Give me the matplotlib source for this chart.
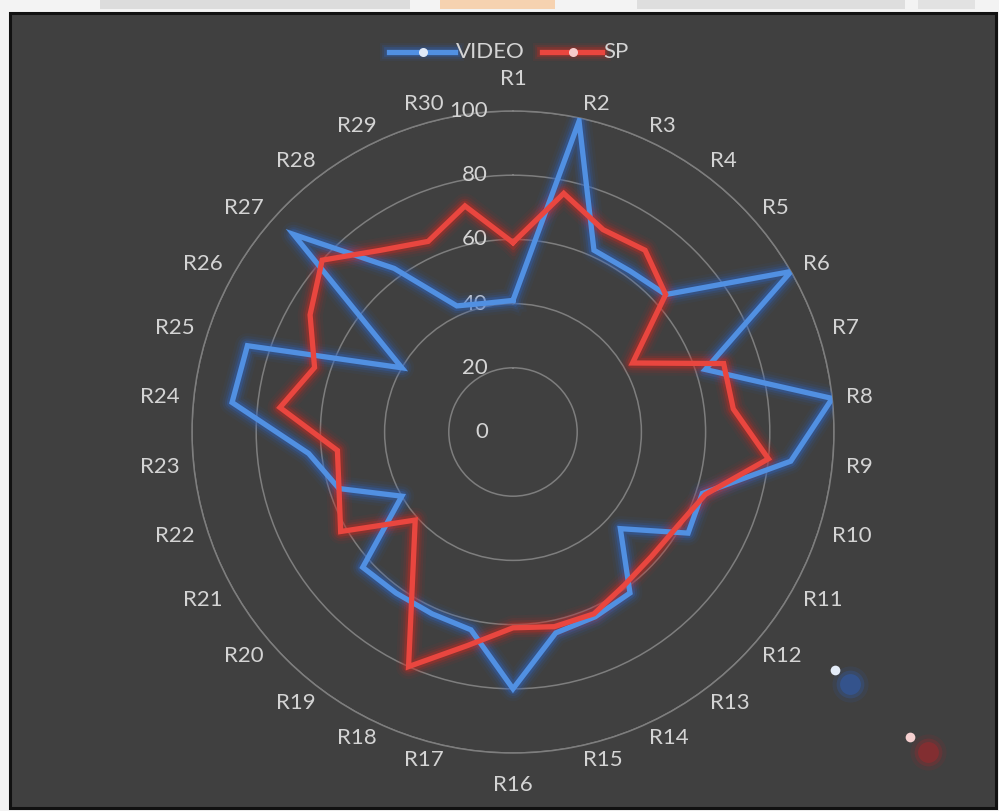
import numpy as np
import matplotlib
matplotlib.use("Agg")
import matplotlib.pyplot as plt
from matplotlib.patches import Rectangle
from matplotlib.lines import Line2D
import matplotlib.transforms as mtransforms

# ---- data -------------------------------------------------------------
categories = ["R1", "R2", "R3", "R4", "R5", "R6", "R7", "R8", "R9", "R10",
              "R11", "R12", "R13", "R14", "R15", "R16", "R17", "R18", "R19", "R20",
              "R21", "R22", "R23", "R24", "R25", "R26", "R27", "R28", "R29", "R30"]
video = [41, 99, 62, 62, 64, 100, 63, 100, 87, 62,
         63, 45, 62, 63, 64, 80, 63, 62, 62, 63,
         40, 57, 64, 88, 87, 40, 92, 63, 43, 41]
sp = [59, 76, 69, 70, 64, 43, 69, 69, 80, 63,
      59, 58, 59, 62, 62, 61, 68, 80, 53, 41,
      62, 57, 55, 73, 65, 73, 80, 70, 65, 72]
r_ticks = [0, 20, 40, 60, 80, 100]
series_names = ["VIDEO", "SP"]

# ---- style ------------------------------------------------------------
W, H = 999, 811
BG = "#404040"
TXT = "#d4d4d4"
GRID = "#7e7e7e"
BLUE, BLUE_GLOW = "#5190e2", "#2d66c8"
RED, RED_GLOW = "#e9463f", "#cf2a22"
FONT = ["Lato", "DejaVu Sans"]
FS = 16


def fx(px):
    return px / W


def fy(py):
    return 1 - py / H


fig = plt.figure(figsize=(W / 100, H / 100), dpi=100, facecolor="#f3f3f3")

# strip of page content above the chart panel
for x0, x1, col in [(100, 410, "#dcdcdc"), (440, 555, "#f6d2b0"),
                    (637, 905, "#dedede"), (918, 975, "#e2e2e2")]:
    fig.patches.append(Rectangle((fx(x0), fy(9)), fx(x1) - fx(x0), fy(0) - fy(9),
                                 transform=fig.transFigure, facecolor=col,
                                 edgecolor="none", zorder=0))

# dark chart panel
fig.patches.append(Rectangle((fx(10), fy(808)), fx(996) - fx(10), fy(13) - fy(808),
                             transform=fig.transFigure, facecolor=BG,
                             edgecolor="#111111", linewidth=2.2, zorder=0))

# ---- radar axes ---------------------------------------------------------
cx, cy, rad = 513, 432, 321
ax = fig.add_axes([fx(cx - rad), fy(cy + rad), 2 * rad / W, 2 * rad / H],
                  projection="polar")
ax.set_zorder(2)
ax.set_facecolor("none")
ax.set_theta_zero_location("N")
ax.set_theta_direction(-1)
ax.set_ylim(0, 100)

angles = np.linspace(0, 2 * np.pi, len(categories), endpoint=False)
ax.set_xticks(angles)
ax.set_xticklabels([])
ax.set_yticks(r_ticks[1:])
ax.set_yticklabels([])
ax.xaxis.grid(False)
ax.yaxis.grid(True, color=GRID, linewidth=1.1)
ax.spines["polar"].set_color(GRID)
ax.spines["polar"].set_linewidth(1.1)
ax.tick_params(length=0)

# category labels: anchored just outside the rim, growing away from the spoke
for a, name in zip(angles, categories):
    s = np.sin(a)
    if abs(s) < 1e-6:
        ax.text(a, 110, name, ha="center", va="center", color=TXT, fontsize=FS,
                family=FONT, clip_on=False)
    else:
        ax.text(a, 104.4, name, ha="left" if s > 0 else "right", va="center",
                color=TXT, fontsize=FS, family=FONT, clip_on=False)

# value labels along the vertical axis
lab_tr = mtransforms.offset_copy(ax.transData, fig=fig, x=-25, y=0, units="dots")
for v in r_ticks:
    ax.text(0, v, str(v), transform=lab_tr, ha="right", va="center",
            color=TXT, fontsize=FS, family=FONT)


def glow_plot(theta, r, core, glow):
    for lw, al in [(18, 0.06), (14, 0.10), (10.5, 0.16), (7.5, 0.30)]:
        ax.plot(theta, r, color=glow, linewidth=lw, alpha=al,
                solid_joinstyle="round", zorder=3)
    ax.plot(theta, r, color=core, linewidth=3.8, solid_joinstyle="miter", zorder=4)


theta_c = np.append(angles, angles[0])
glow_plot(theta_c, video + video[:1], BLUE, BLUE_GLOW)
glow_plot(theta_c, sp + sp[:1], RED, RED_GLOW)

# ---- legend ---------------------------------------------------------------
def legend_entry(x0, x1, xdot, xtxt, text, core, glow, dot):
    y = fy(52)
    for lw, al in [(13, 0.08), (10, 0.14), (7, 0.28)]:
        fig.add_artist(Line2D([fx(x0), fx(x1)], [y, y], color=glow, linewidth=lw,
                              alpha=al, transform=fig.transFigure))
    fig.add_artist(Line2D([fx(x0), fx(x1)], [y, y], color=core, linewidth=3.8,
                          transform=fig.transFigure))
    fig.add_artist(Line2D([fx(xdot)], [y], marker="o", markersize=6.5,
                          color=dot, markeredgecolor="none",
                          transform=fig.transFigure))
    fig.text(fx(xtxt), y, text, ha="left", va="center", color=TXT,
             fontsize=FS, family=FONT)


legend_entry(389, 455, 423, 456, series_names[0], BLUE, BLUE_GLOW, "#dfe9f8")
legend_entry(542, 602, 573, 603, series_names[1], RED, RED_GLOW, "#f6cccc")

# stray marker glints at lower right
for (xd, yd, dcol), (xb, yb, bcol) in [((835, 670, "#e4ecf8"), (850, 684, "#2f5fb8")),
                                      ((910, 737, "#f5d0d0"), (928, 752, "#a8262a"))]:
    for ms, al in [(26, 0.12), (20, 0.25), (15, 0.45)]:
        fig.add_artist(Line2D([fx(xb)], [fy(yb)], marker="o", markersize=ms,
                              color=bcol, alpha=al, markeredgecolor="none",
                              transform=fig.transFigure))
    fig.add_artist(Line2D([fx(xd)], [fy(yd)], marker="o", markersize=7,
                          color=dcol, markeredgecolor="none",
                          transform=fig.transFigure))

fig.savefig("out.png", dpi=100, facecolor=fig.get_facecolor())
